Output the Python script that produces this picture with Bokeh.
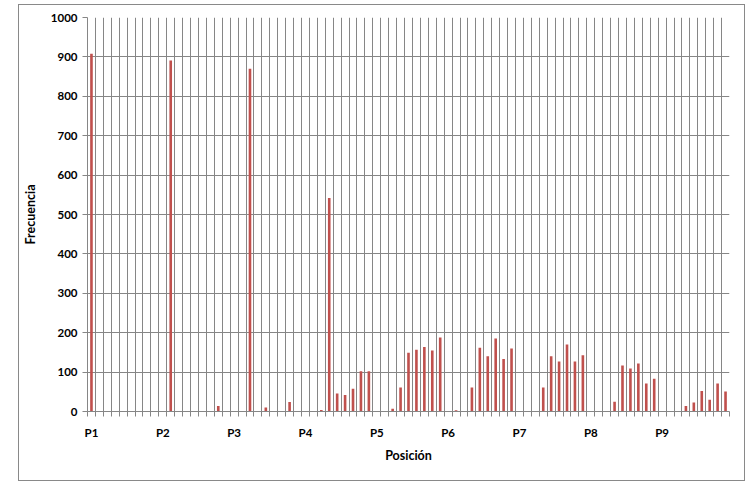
from bokeh.plotting import figure
from bokeh.models import Range1d, FixedTicker
from bokeh.embed import file_html
from bokeh.resources import INLINE

positions = ["P1", "P2", "P3", "P4", "P5", "P6", "P7", "P8", "P9"]
values_per_position = 9
frequencies = [
    908, 0, 0, 0, 0, 0, 0, 0, 0,
    0, 891, 0, 0, 0, 0, 0, 14, 0,
    0, 0, 870, 0, 10, 0, 0, 24, 0,
    0, 0, 4, 542, 46, 42, 58, 102, 102,
    0, 0, 7, 61, 149, 157, 164, 155, 188,
    0, 3, 1, 61, 162, 140, 185, 133, 160,
    0, 1, 0, 61, 140, 127, 170, 127, 143,
    0, 0, 1, 25, 117, 109, 122, 71, 83,
    0, 0, 0, 14, 23, 52, 30, 71, 51,
]
y_ticks = [0, 100, 200, 300, 400, 500, 600, 700, 800, 900, 1000]

n = len(frequencies)
xs = list(range(n))
boundaries = [i - 0.5 for i in range(n + 1)]
label_ticks = [i * values_per_position for i in range(len(positions))]

FONT = "Lato"
GRID = "#868686"

p = figure(width=727, height=477, output_backend="svg", toolbar_location=None,
           x_range=Range1d(-0.5, n - 0.5), y_range=Range1d(0, 1000),
           min_border_left=68, min_border_right=17, min_border_top=12, min_border_bottom=71)
# outer chart border (page body has no margin in Bokeh's template)
p.styles = {"border": "1px solid #898989", "margin-left": "18px", "margin-top": "4px"}

p.vbar(x=xs, top=frequencies, width=0.33, fill_color="#c0504d", line_color=None)

p.outline_line_color = None
p.background_fill_color = "white"
p.border_fill_color = "white"

# x axis
p.xaxis.ticker = FixedTicker(ticks=label_ticks, minor_ticks=boundaries)
p.xaxis.major_label_overrides = {t: lab for t, lab in zip(label_ticks, positions)}
p.xaxis.major_tick_line_color = None
p.xaxis.minor_tick_in = 0
p.xaxis.minor_tick_out = 5
p.xaxis.minor_tick_line_color = GRID
p.xaxis.axis_line_color = GRID
p.xaxis.major_label_standoff = 8
p.xaxis.axis_label = "Posición"
p.xaxis.axis_label_standoff = 6

p.xgrid.ticker = FixedTicker(ticks=boundaries)
p.xgrid.grid_line_color = GRID

# y axis
p.yaxis.ticker = FixedTicker(ticks=y_ticks)
p.yaxis.major_tick_in = 0
p.yaxis.major_tick_out = 5
p.yaxis.major_tick_line_color = GRID
p.yaxis.minor_tick_line_color = None
p.yaxis.axis_line_color = GRID
p.yaxis.major_label_standoff = 5
p.yaxis.axis_label = "Frecuencia"
p.yaxis.axis_label_standoff = 10
p.ygrid.grid_line_color = GRID

for ax in (p.xaxis[0], p.yaxis[0]):
    ax.major_label_text_font = FONT
    ax.major_label_text_font_style = "bold"
    ax.major_label_text_font_size = "11.5px"
    ax.major_label_text_color = "black"
    ax.axis_label_text_font = FONT
    ax.axis_label_text_font_style = "bold"
    ax.axis_label_text_font_size = "12.5px"
    ax.axis_label_text_color = "black"

open("out.html", "w").write(file_html(p, INLINE))
